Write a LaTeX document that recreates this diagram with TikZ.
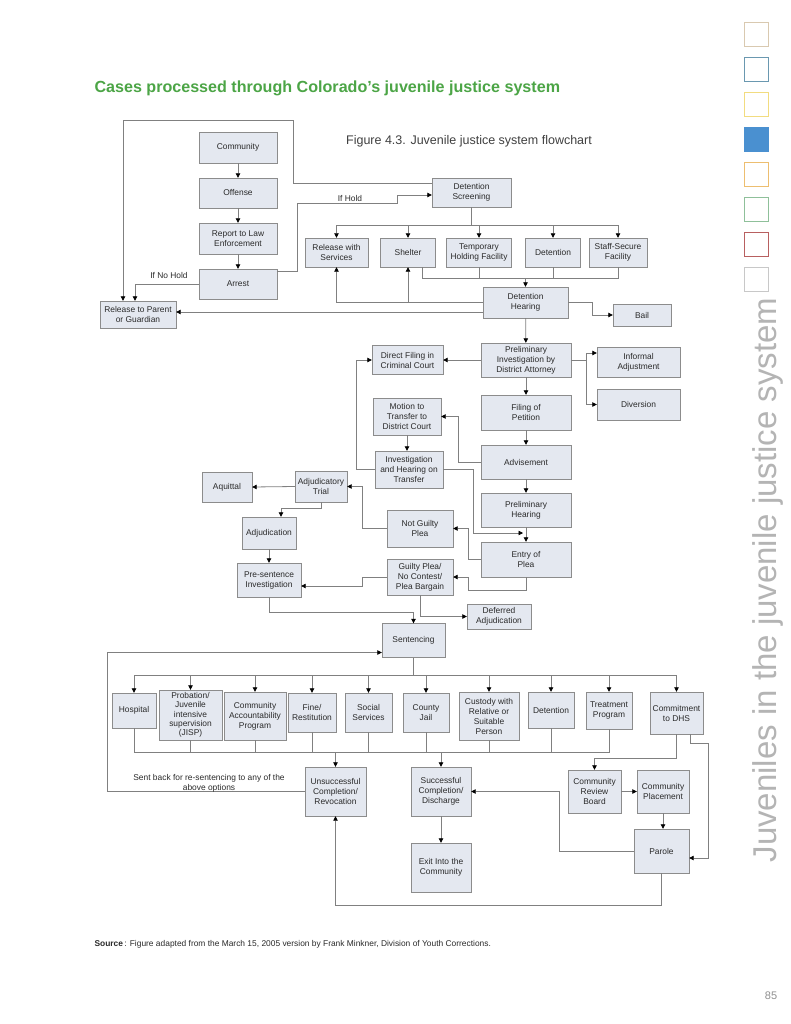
\documentclass[tikz,border=0pt]{standalone}
\usepackage{fontspec}
\setmainfont{Liberation Sans}
\usetikzlibrary{arrows.meta, calc, positioning}

\definecolor{titlegreen}{HTML}{4CA546}
\definecolor{boxfill}{HTML}{E4E8F0}
\definecolor{boxline}{HTML}{8C8C8C}
\definecolor{boxtext}{HTML}{2A2A2A}
\definecolor{flowgray}{HTML}{808080}
\definecolor{captext}{HTML}{404040}
\definecolor{sidetext}{HTML}{B4B4B4}
\definecolor{sqa}{HTML}{D9C9B0}
\definecolor{sqb}{HTML}{6A98B0}
\definecolor{sqc}{HTML}{F2DC80}
\definecolor{sqd}{HTML}{4A90D0}
\definecolor{sqe}{HTML}{EDBE70}
\definecolor{sqf}{HTML}{8FC09A}
\definecolor{sqg}{HTML}{B86060}
\definecolor{sqh}{HTML}{C8C8C8}

\begin{document}
\begin{tikzpicture}[x=1pt, y=-1pt,
    box/.style 2 args={draw=boxline, fill=boxfill, minimum width=#1pt, minimum height=#2pt,
        inner sep=1pt, align=center, text=boxtext, font=\fontsize{8.4}{10}\selectfont},
    line/.style={draw=flowgray, line width=0.8pt},
    flow/.style={line, -{Triangle[length=4.5pt, width=4.5pt, color=black]}},
    lbl/.style={align=center, text=boxtext, font=\fontsize{8.4}{10}\selectfont}]
    \fill[white] (0,0) rectangle (791,1024);
    \useasboundingbox (0,0) rectangle (791,1024);

    % page furniture
    \node[anchor=west, text=titlegreen, font=\fontsize{16.1}{19}\selectfont\bfseries] (title) at (91,88) {Cases processed through Colorado’s juvenile justice system};
    \node[text=captext, font=\fontsize{12.5}{15}\selectfont] (caption) at (469,141) {Figure 4.3. Juvenile justice system flowchart};
    \node[anchor=west, text=boxtext, font=\fontsize{8.4}{10}\selectfont] (source) at (91,944) {\textbf{Source}\,: Figure adapted from the March 15, 2005 version by Frank Minkner, Division of Youth Corrections.};
    \foreach \c [count=\i from 0] in {sqa,sqb,sqc,sqd,sqe,sqf,sqg,sqh}
        \draw[\c, line width=0.8pt] (744,22+35*\i) rectangle ++(24,24);
    \fill[sqd] (744,127) rectangle ++(24,24);
    \node[rotate=90, text=sidetext, font=\fontsize{33}{36}\selectfont] (side) at (768,580) {Juveniles in the juvenile justice system};
    \node[text=sidetext!80!black, font=\fontsize{11}{12}\selectfont] (pagenum) at (771,996) {85};

    % arrest and detention
    \node[box={78}{31}] (community) at (238,147.5) {Community};
    \node[box={78}{30}] (offense) at (238,193) {Offense};
    \node[box={78}{31}] (report) at (238,238.5) {Report to Law\\Enforcement};
    \node[box={78}{30}] (arrest) at (238,284) {Arrest};
    \node[box={76}{27}] (parent) at (138,314.5) {Release to Parent\\or Guardian};
    \node[box={79}{29}] (screening) at (471.5,192.5) {Detention\\Screening};
    \node[box={63}{29}] (relsvc) at (336.5,252.5) {Release with\\Services};
    \node[box={55}{29}] (shelter) at (408,252.5) {Shelter};
    \node[box={65}{29}] (temphold) at (479,252.5) {Temporary\\Holding Facility};
    \node[box={55}{29}] (detent1) at (553,252.5) {Detention};
    \node[box={58}{29}] (staffsec) at (618,252.5) {Staff-Secure\\Facility};
    \node[box={85}{31}] (hearing) at (525.5,302.5) {Detention\\Hearing};
    \node[box={58}{22}] (bail) at (642,315) {Bail};

    % court
    \node[box={90}{34}] (prelim) at (526,360) {Preliminary\\Investigation by\\District Attorney};
    \node[box={71}{29}] (direct) at (407.5,360) {Direct Filing in\\Criminal Court};
    \node[box={83}{30}] (informal) at (638.5,362) {Informal\\Adjustment};
    \node[box={83}{31}] (diversion) at (638.5,404.5) {Diversion};
    \node[box={90}{35}] (filing) at (526,412.5) {Filing of\\Petition};
    \node[box={68}{37}] (motion) at (407,416.5) {Motion to\\Transfer to\\District Court};
    \node[box={90}{34}] (advise) at (526,462) {Advisement};
    \node[box={68}{37}] (invest) at (409,469.5) {Investigation\\and Hearing on\\Transfer};
    \node[box={90}{34}] (prelhear) at (526,510) {Preliminary\\Hearing};
    \node[box={66}{37}] (notguilty) at (420,528.5) {Not Guilty\\Plea};
    \node[box={90}{35}] (entry) at (526,559.5) {Entry of\\Plea};
    \node[box={66}{36}] (guilty) at (420,577) {Guilty Plea/\\No Contest/\\Plea Bargain};
    \node[box={64}{25}] (deferred) at (499,616.5) {Deferred\\Adjudication};
    \node[box={50}{30}] (aquittal) at (227,487) {Aquittal};
    \node[box={52}{31}] (adjtrial) at (321,486.5) {Adjudicatory\\Trial};
    \node[box={54}{32}] (adjud) at (269,533) {Adjudication};
    \node[box={64}{34}] (presentence) at (269,580) {Pre-sentence\\Investigation};
    \node[box={63}{34}] (sentencing) at (413.5,640.5) {Sentencing};

    % sentences
    \node[box={44}{35}] (hospital) at (134,710.5) {Hospital};
    \node[box={63}{50}, font=\fontsize{8.4}{9.4}\selectfont] (probation) at (190.5,715) {Probation/\\Juvenile\\intensive\\supervision\\(JISP)};
    \node[box={62}{48}] (cap) at (255,716) {Community\\Accountability\\Program};
    \node[box={48}{39}] (fine) at (312,712.5) {Fine/\\Restitution};
    \node[box={47}{39}] (social) at (368.5,712.5) {Social\\Services};
    \node[box={46}{39}] (county) at (426,712.5) {County\\Jail};
    \node[box={60}{48}] (custody) at (489,716) {Custody with\\Relative or\\Suitable\\Person};
    \node[box={46}{36}] (detent2) at (551,710) {Detention};
    \node[box={46}{37}] (treatment) at (609,710.5) {Treatment\\Program};
    \node[box={53}{42}] (commit) at (676.5,713) {Commitment\\to DHS};
    \node[box={61}{49}] (unsucc) at (335.5,791.5) {Unsuccessful\\Completion/\\Revocation};
    \node[box={60}{49}] (succ) at (441,791.5) {Successful\\Completion/\\Discharge};
    \node[box={60}{49}] (exitc) at (441,867.5) {Exit Into the\\Community};
    \node[box={53}{43}] (crb) at (594.5,791.5) {Community\\Review\\Board};
    \node[box={52}{43}] (placement) at (663,791.5) {Community\\Placement};
    \node[box={55}{44}] (parole) at (661.5,851) {Parole};

    % connectors, top
    \draw[flow] (community) -- (offense);
    \draw[flow] (offense) -- (report);
    \draw[flow] (report) -- (arrest);
    \draw[flow] (arrest.west) -| ([xshift=-3pt]parent.north);
    \node[lbl] (nohold) at (169,275) {If No Hold};
    \draw[flow] ([yshift=9.5pt]screening.west) -| (293,120) -| ([xshift=-15pt]parent.north);
    \draw[flow] ([yshift=13pt]arrest.east) -| (297,203) -| (397,195) -- ([yshift=-2.5pt]screening.west);
    \node[lbl] (hold) at (350,198) {If Hold};
    \coordinate (sbus) at (471.5,225);
    \draw[line] (screening) -- (sbus);
    \foreach \n in {relsvc, shelter, temphold, detent1, staffsec}
        \draw[flow] (sbus) -| (\n.north);
    \coordinate (hbus) at (525.5,278);
    \draw[line] ([xshift=14pt]shelter.south) |- (staffsec.south |- hbus) -- (staffsec.south);
    \draw[line] (temphold.south) -- (temphold.south |- hbus);
    \draw[line] (detent1.south) -- (detent1.south |- hbus);
    \draw[flow] (hbus) -- (hearing.north);
    \draw[flow] (hearing.west) -| (relsvc.south);
    \draw[flow] (shelter.south |- hearing.west) -- (shelter.south);
    \draw[flow] ([yshift=-9.5pt]hearing.west) -- ([yshift=2.5pt]parent.east);
    \draw[flow] (hearing.east) -| (592,315) -- (bail.west);
    \draw[flow] (hearing) -- (prelim);

    % connectors, court
    \draw[flow] (prelim.west) -- (direct.east);
    \coordinate (dabranch) at (586,360);
    \draw[line] (prelim.east) -- (dabranch);
    \draw[flow] (dabranch) |- ([yshift=9pt]informal.west);
    \draw[flow] (dabranch) |- (diversion.west);
    \draw[flow] (prelim) -- (filing);
    \draw[flow] (filing) -- (advise);
    \draw[flow] (advise) -- (prelhear);
    \draw[flow] (prelhear) -- (entry);
    \draw[flow] (advise.west) -- ++(-22,0) |- (motion.east);
    \draw[flow] (motion.south) -- (motion.south |- invest.north);
    \draw[flow] (invest.west) -- ++(-18,0) |- (direct.west);
    \coordinate (pleajoin) at (523,533);
    \draw[flow] (invest.east) -- ++(30,0) |- (pleajoin);
    \draw[flow] (entry.west) -- ++(-12,0) |- (notguilty.east);
    \draw[flow] (entry.south) -- ++(0,13) -| (468,577) -- (guilty.east);
    \draw[flow] (notguilty.west) -- ++(-24,0) |- (adjtrial.east);
    \draw[flow] (adjtrial.west) -- (aquittal.east);
    \draw[flow] (adjtrial.south) -- ++(0,6) -| ([xshift=12pt]adjud.north);
    \draw[flow] (adjud) -- (presentence);
    \draw[flow] (guilty.west) -- ++(-24,0) |- ([yshift=-6pt]presentence.east);
    \draw[flow] (guilty.south) |- (deferred.west);
    \draw[flow] (presentence.south) -- ++(0,15) -| (sentencing.north);

    % connectors, sentencing
    \coordinate (tbus) at (413.5,675);
    \draw[line] (sentencing) -- (tbus);
    \foreach \n in {hospital, probation, cap, fine, social, county, custody, detent2, treatment, commit}
        \draw[flow] (tbus) -| (\n.north);
    \coordinate (ubus) at (335.5,752);
    \draw[line] (hospital.south) |- (treatment.south |- ubus) -- (treatment.south);
    \foreach \n in {probation, cap, fine, social, county, custody, detent2}
        \draw[line] (\n.south) -- (\n.south |- ubus);
    \draw[flow] (ubus) -- (unsucc.north);
    \draw[flow] (succ.north |- ubus) -- (succ.north);
    \draw[flow] (commit.south) -- ++(0,24) -| (crb.north);
    \draw[flow] ([xshift=14pt]commit.south) -- ++(0,9) -| ([xshift=19pt,yshift=-7pt]parole.east) -- ([yshift=-7pt]parole.east);
    \draw[flow] (crb) -- (placement);
    \draw[flow] (placement.south) -- (placement.south |- parole.north);
    \draw[flow] (parole.west) -- ++(-74,0) |- (succ.east);
    \draw[flow] (parole.south) -- ++(0,32) -| (unsucc.south);
    \draw[flow] (succ) -- (exitc);
    \draw[flow] (unsucc.west) -- ++(-197,0) |- ([yshift=-12pt]sentencing.west);
    \node[lbl] (sentback) at (209,783) {Sent back for re-sentencing to any of the\\above options};
\end{tikzpicture}
\end{document}
